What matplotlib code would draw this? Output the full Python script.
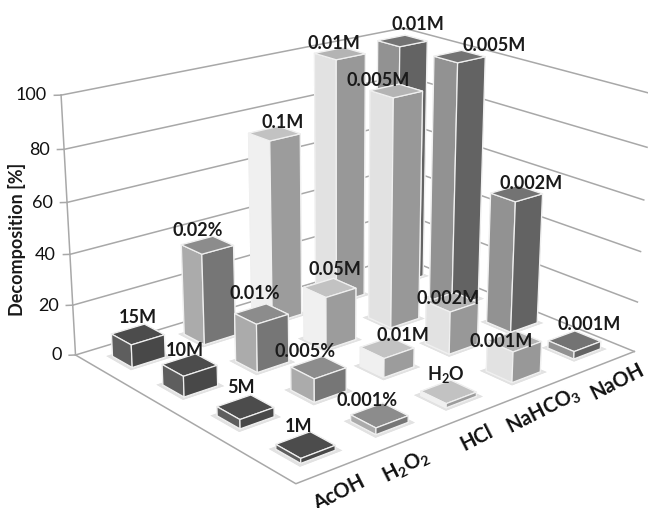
import numpy as np
import matplotlib
matplotlib.use('Agg')
import matplotlib.pyplot as plt
from matplotlib.transforms import offset_copy
from mpl_toolkits.mplot3d import proj3d

plt.rcParams['font.family'] = ['Lato', 'DejaVu Sans']
plt.rcParams['mathtext.default'] = 'regular'

W, H = 648, 508

categories = ['AcOH', 'H$_2$O$_2$', 'HCl', 'NaHCO$_3$', 'NaOH']
category_pos = [.2, 1.08, 2.05, 3.05, 4.22]
yticks = [0, 20, 40, 60, 80, 100]

# rows run front to back
acoh_vals = [1.8, 3.5, 8, 9]
h2o2_vals = [2.5, 9, 19, 36.5]
hcl_vals = [1.6, 7.5, 21, 74]
nahco3_vals = [12, 17, 92, 100]
naoh_vals = [3, 53, 100, 100]
acoh_lab = ['1M', '5M', '10M', '15M']
h2o2_lab = ['0.001%', '0.005%', '0.01%', '0.02%']
hcl_lab = ['H$_2$O', '0.01M', '0.05M', '0.1M']
nahco3_lab = ['0.001M', '0.002M', '0.005M', '0.01M']
naoh_lab = ['0.001M', '0.002M', '0.005M', '0.01M']

values = [acoh_vals, h2o2_vals, hcl_vals, nahco3_vals, naoh_vals]
labels = [acoh_lab, h2o2_lab, hcl_lab, nahco3_lab, naoh_lab]
# label shift from the bar top, in pixels
shifts = [[(-7, 18), (-4, 20), (-5, 14), (0, 17)],
          [(-12, 15), (-13, 16), (-7, 20), (-10, 15)],
          [(-3, 17), (16, 12), (5, 18), (8, 11)],
          [(-13, 0), (-4, 4), (-18, 10), (-6, 10)],
          [(15, 17), (15, 10), (35, 11), (15, 16)]]
# top, left side, right side
shades = [('#4c4c4c', '#5e5e5e', '#484848'),
          ('#8c8c8c', '#ababab', '#767676'),
          ('#c2c2c2', '#f0f0f0', '#9c9c9c'),
          ('#b4b4b4', '#e2e2e2', '#989898'),
          ('#737373', '#929292', '#636363')]

fig = plt.figure(figsize=(W / 100, H / 100), dpi=100)
ax = fig.add_axes([0, 0, 1, 1], projection='3d', computed_zorder=False)
ax.set_xlim(0, 5)
ax.set_ylim(0, 4)
ax.set_zlim(0, 100)

# camera fitted to the frame corners of the picture
ax.view_init(19.688, -130.464, -0.206)
ax.set_proj_type('persp', focal_length=np.exp(-0.65))
ax.set_box_aspect((1.621, 1.316, 1))

# place the axes so the view coordinates land on the picture pixels
s, tx, ty = 3338.6, 356.4, 227.2
x0, x1 = ax.viewLim.intervalx
y0, y1 = ax.viewLim.intervaly
side = s * (x1 - x0)
left = tx + x0 * s
bottom = H - (ty - y0 * s)
ax.set_position([left / W, bottom / H, side / W, side / H])
ax.set_axis_off()
ax.patch.set_alpha(0)

# frame
for t in yticks:
    ax.plot([0, 5, 5], [4, 4, 0], [t, t, t], color='#a8a8a8', lw=1.1, zorder=1)
    ax.plot([-.06, 0], [4.04, 4], [t, t], color='#a8a8a8', lw=1.1, zorder=1)
    ax.text(-.13, 4.09, t, str(t), ha='right', va='center', fontsize=13, color='#111111', zorder=50)
ax.plot([0, 0], [4, 4], [0, 100], color='#a8a8a8', lw=1.1, zorder=1)
ax.plot([0, 0, 5], [4, 0, 0], [0, 0, 0], color='#a8a8a8', lw=1.1, zorder=1)

wx, wy = 0.45, 0.40
for row in range(3, -1, -1):
    for col in range(4, -1, -1):
        h = values[col][row]
        xc, yc = col + .53, row + .5
        z = 10 + (3 - row) * 10 + (4 - col)
        top, lft, rgt = shades[col]
        sh = ax.bar3d(xc - wx / 2 - .05, yc - wy / 2 - .05, 0, wx + .1, wy + .1, .01,
                      color='#e2e2e2', edgecolor='none', shade=False)
        sh.set_zorder(2)
        # faces: bottom, top, front(-y), back(+y), left(-x), right(+x)
        bar = ax.bar3d(xc - wx / 2, yc - wy / 2, 0, wx, wy, h,
                       color=['#ffffff', top, rgt, rgt, lft, lft],
                       edgecolor='#f0f0f0', linewidth=.9, shade=False)
        bar.set_zorder(z)
        dx, dy = shifts[col][row]
        ax.text(xc, yc, h, labels[col][row], ha='center', va='center',
                transform=offset_copy(ax.transData, fig, x=dx, y=dy, units='dots'),
                fontsize=13, fontweight='bold', color='#1a1a1a', zorder=60)

# 3d text ignores rotation, so the slanted names go on as 2d text
M = ax.get_proj()
for xp, name in zip(category_pos, categories):
    px, py, _ = proj3d.proj_transform(xp, -.42, 0, M)
    ax.text2D(px, py, name, transform=ax.transData, ha='center', va='center', rotation=27,
              rotation_mode='anchor', fontsize=14.5, fontweight='bold', color='#111111', zorder=60)

fig.text(17 / W, 1 - 239 / H, 'Decomposition [%]', rotation=90, ha='center', va='center',
         fontsize=13, fontweight='bold', color='#1a1a1a')

fig.savefig('out.png', dpi=100)
